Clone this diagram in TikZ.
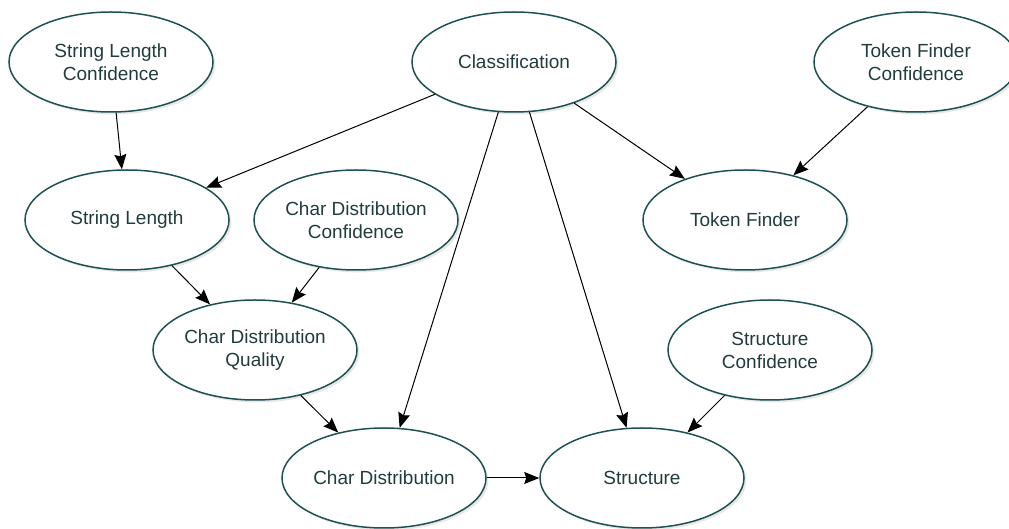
\documentclass[tikz,border=0pt]{standalone}
\usepackage{fontspec}
\setmainfont{Liberation Sans}
\usetikzlibrary{shapes.geometric, arrows.meta, positioning, shadows}
\definecolor{NetTeal}{HTML}{1E5252}
\definecolor{NetText}{HTML}{223C3C}
\definecolor{NetBlack}{HTML}{000000}
\definecolor{NetWhite}{HTML}{FFFFFF}
\tikzset{
    % Base font for all nodes
    every node/.style={font=\fontsize{9.5}{11.5}\selectfont},
    % Variable ellipse style
    varnode/.style={
        ellipse,
        draw=NetTeal,
        fill=NetWhite,
        line width=0.75pt,
        inner sep=0pt,
        minimum width=102pt,
        minimum height=50pt,
        align=center,
        text=NetText,
        drop shadow={opacity=0.18, shadow xshift=1.2pt, shadow yshift=-1.2pt}
    },
    % Arrow style
    arrow/.style={
        -{Stealth[length=7.5pt, width=6pt, inset=1pt]},
        line width=0.5pt,
        color=NetBlack
    }
}

\begin{document}
\begin{tikzpicture}[on grid]
        \useasboundingbox (-55.5pt, 31pt) rectangle (449pt, -233.5pt);

        % Top row
        \node (slc) [varnode] {String Length\\Confidence};
        \node (cls) [varnode, right=201.5pt of slc] {Classification};
        \node (tfc) [varnode, right=201pt of cls] {Token Finder\\Confidence};

        % Second row
        \node (sl) [varnode, below right=79pt and 8pt of slc] {String Length};
        \node (cdc) [varnode, right=114.5pt of sl] {Char Distribution\\Confidence};
        \node (tf) [varnode, right=194.5pt of cdc] {Token Finder};

        % Third row
        \node (cdq) [varnode, below right=65pt and 64pt of sl] {Char Distribution\\Quality};
        \node (sc) [varnode, right=257.5pt of cdq] {Structure\\Confidence};

        % Bottom row
        \node (cd) [varnode, below right=64pt and 64.5pt of cdq] {Char Distribution};
        \node (st) [varnode, right=129pt of cd] {Structure};

        \draw [arrow] (slc) -- (sl);
        \draw [arrow] (cls) -- (sl);
        \draw [arrow] (cls) -- (tf);
        \draw [arrow] (cls) -- (cd);
        \draw [arrow] (cls) -- (st);
        \draw [arrow] (tfc) -- (tf);
        \draw [arrow] (sl) -- (cdq);
        \draw [arrow] (cdc) -- (cdq);
        \draw [arrow] (cdq) -- (cd);
        \draw [arrow] (sc) -- (st);
        \draw [arrow] (cd) -- (st);
    \end{tikzpicture}
\end{document}
